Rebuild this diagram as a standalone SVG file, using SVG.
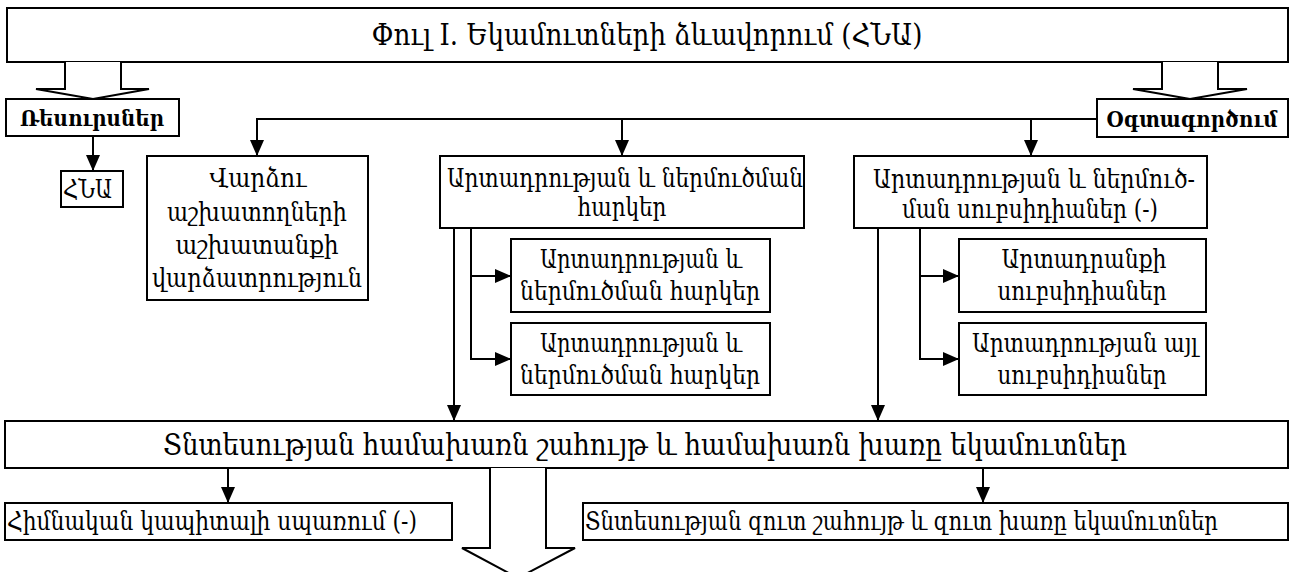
<svg xmlns="http://www.w3.org/2000/svg" width="1293" height="572" viewBox="0 0 1293 572">
<style>
.box{fill:#fff;stroke:#000;stroke-width:2}
.ln{fill:none;stroke:#000;stroke-width:2}
.hol{fill:#fff;stroke:#000;stroke-width:2;stroke-linejoin:miter}
text{font-family:"DejaVu Serif Condensed","DejaVu Serif",serif;font-stretch:condensed;fill:#000}
.t{font-size:26px}
.tc{font-size:26px;text-anchor:middle}
.big{font-size:29px;text-anchor:middle}
.b{font-size:23px;font-weight:bold;text-anchor:middle}
</style>
<defs>
<marker id="ah" markerWidth="16" markerHeight="14" refX="16" refY="7" orient="auto" markerUnits="userSpaceOnUse">
<path d="M0,0 L16,7 L0,14 Z" fill="#000"/>
</marker>
</defs>
<rect width="1293" height="572" fill="#fff"/>

<g id="title">
<rect class="box" x="7" y="8" width="1281" height="54"/>
<text class="big" x="647" y="45" textLength="551" lengthAdjust="spacingAndGlyphs">Փուլ I. Եկամուտների ձևավորում (ՀՆԱ)</text>
</g>

<g id="hollow-left">
<path class="hol" d="M65,62 L65,89 L36,89 L93,99 L149,89 L121,89 L121,62"/>
</g>
<g id="hollow-right">
<path class="hol" d="M1162,62 L1162,89 L1133,89 L1190,99 L1247,89 L1218,89 L1218,62"/>
</g>

<g id="resursner">
<rect class="box" x="6" y="99" width="173" height="37"/>
<text class="b" x="92" y="126" textLength="144" lengthAdjust="spacingAndGlyphs">Ռեսուրսներ</text>
</g>

<g id="hna">
<rect class="box" x="61" y="171" width="62" height="36"/>
<text class="t" x="63" y="198" textLength="49" lengthAdjust="spacingAndGlyphs">ՀՆԱ</text>
</g>

<g id="ogtagortsum">
<rect class="box" x="1097" y="99" width="191" height="38"/>
<text class="b" x="1192" y="127" textLength="171" lengthAdjust="spacingAndGlyphs">Օգտագործում</text>
</g>

<g id="vardzu">
<rect class="box" x="147" y="156" width="221" height="144"/>
<text class="tc" x="258" y="187" textLength="97" lengthAdjust="spacingAndGlyphs">Վարձու</text>
<text class="tc" x="257" y="221" textLength="180" lengthAdjust="spacingAndGlyphs">աշխատողների</text>
<text class="tc" x="257" y="254" textLength="163" lengthAdjust="spacingAndGlyphs">աշխատանքի</text>
<text class="tc" x="257" y="287" textLength="210" lengthAdjust="spacingAndGlyphs">վարձատրություն</text>
</g>

<g id="harker">
<rect class="box" x="440" y="156" width="364" height="72"/>
<text class="tc" x="625" y="187" textLength="356" lengthAdjust="spacingAndGlyphs">Արտադրության և ներմուծման</text>
<text class="tc" x="622" y="216" textLength="89" lengthAdjust="spacingAndGlyphs">հարկեր</text>
</g>

<g id="harker-1">
<rect class="box" x="511" y="239" width="259" height="73"/>
<text class="tc" x="641" y="268" textLength="202" lengthAdjust="spacingAndGlyphs">Արտադրության և</text>
<text class="tc" x="640" y="300" textLength="240" lengthAdjust="spacingAndGlyphs">ներմուծման հարկեր</text>
</g>

<g id="harker-2">
<rect class="box" x="511" y="323" width="259" height="72"/>
<text class="tc" x="641" y="352" textLength="202" lengthAdjust="spacingAndGlyphs">Արտադրության և</text>
<text class="tc" x="640" y="384" textLength="240" lengthAdjust="spacingAndGlyphs">ներմուծման հարկեր</text>
</g>

<g id="subsidies">
<rect class="box" x="854" y="156" width="353" height="72"/>
<text class="tc" x="1034" y="188" textLength="322" lengthAdjust="spacingAndGlyphs">Արտադրության և ներմուծ-</text>
<text class="tc" x="1030" y="218" textLength="256" lengthAdjust="spacingAndGlyphs">ման սուբսիդիաներ (-)</text>
</g>

<g id="subsidies-1">
<rect class="box" x="959" y="239" width="247" height="73"/>
<text class="tc" x="1084" y="268" textLength="165" lengthAdjust="spacingAndGlyphs">Արտադրանքի</text>
<text class="tc" x="1082" y="300" textLength="169" lengthAdjust="spacingAndGlyphs">սուբսիդիաներ</text>
</g>

<g id="subsidies-2">
<rect class="box" x="959" y="323" width="247" height="72"/>
<text class="tc" x="1085" y="352" textLength="226" lengthAdjust="spacingAndGlyphs">Արտադրության այլ</text>
<text class="tc" x="1082" y="384" textLength="169" lengthAdjust="spacingAndGlyphs">սուբսիդիաներ</text>
</g>

<g id="gross">
<rect class="box" x="5" y="421" width="1283" height="47"/>
<text class="big" x="645" y="455" textLength="964" lengthAdjust="spacingAndGlyphs">Տնտեսության համախառն շահույթ և համախառն խառը եկամուտներ</text>
</g>

<g id="consumption">
<rect class="box" x="5" y="503" width="447" height="37"/>
<text class="t" x="7" y="530" textLength="410" lengthAdjust="spacingAndGlyphs">Հիմնական կապիտալի սպառում (-)</text>
</g>

<g id="net">
<rect class="box" x="583" y="503" width="705" height="37"/>
<text class="t" x="585" y="530" textLength="633" lengthAdjust="spacingAndGlyphs">Տնտեսության զուտ շահույթ և զուտ խառը եկամուտներ</text>
</g>

<g id="hollow-bottom">
<path class="hol" d="M490,468 L490,548 L462,548 L518,578 L575,548 L546,548 L546,468"/>
</g>

<g id="connectors">
<line class="ln" x1="93" y1="136" x2="93" y2="171" marker-end="url(#ah)"/>
<line class="ln" x1="257" y1="119" x2="1097" y2="119"/>
<line class="ln" x1="257" y1="118" x2="257" y2="156" marker-end="url(#ah)"/>
<line class="ln" x1="622" y1="119" x2="622" y2="156" marker-end="url(#ah)"/>
<line class="ln" x1="1031" y1="119" x2="1031" y2="156" marker-end="url(#ah)"/>
<line class="ln" x1="454" y1="228" x2="454" y2="421" marker-end="url(#ah)"/>
<polyline class="ln" points="471,228 471,359"/>
<line class="ln" x1="470" y1="276" x2="511" y2="276" marker-end="url(#ah)"/>
<line class="ln" x1="470" y1="359" x2="511" y2="359" marker-end="url(#ah)"/>
<line class="ln" x1="878" y1="228" x2="878" y2="421" marker-end="url(#ah)"/>
<polyline class="ln" points="920,228 920,359"/>
<line class="ln" x1="919" y1="276" x2="959" y2="276" marker-end="url(#ah)"/>
<line class="ln" x1="919" y1="359" x2="959" y2="359" marker-end="url(#ah)"/>
<line class="ln" x1="228" y1="468" x2="228" y2="503" marker-end="url(#ah)"/>
<line class="ln" x1="983" y1="468" x2="983" y2="503" marker-end="url(#ah)"/>
</g>
</svg>
